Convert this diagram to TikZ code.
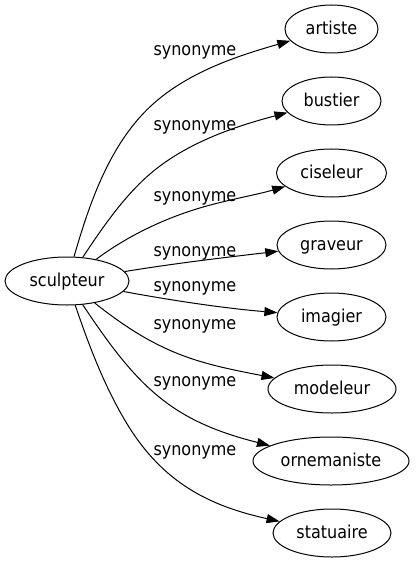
\documentclass[tikz,border=0pt]{standalone}
\usepackage{fontspec}
\setmainfont{DejaVu Sans Condensed}
\usetikzlibrary{shapes.geometric,arrows.meta}
\begin{document}
\begin{tikzpicture}[x=1bp,y=-1bp,
  word/.style={draw, ellipse, inner sep=0pt, line width=1bp,
    minimum height=48bp, font=\fontsize{17.8bp}{20bp}\selectfont,
    text height=14bp, text depth=3bp},
  rel/.style={font=\fontsize{17.8bp}{20bp}\selectfont, anchor=base west, inner sep=0pt},
  link/.style={line width=1bp, -{Triangle[length=13bp,width=9bp]}}]
\useasboundingbox (0,0) rectangle (415,563);

\node[word, minimum width=124bp] (s) at (67,281) {sculpteur};
\node[word, minimum width=93bp]  (n1) at (331.5,29) {artiste};
\node[word, minimum width=99bp]  (n2) at (331.5,101) {bustier};
\node[word, minimum width=110bp] (n3) at (331.5,173) {ciseleur};
\node[word, minimum width=109bp] (n4) at (331.5,245) {graveur};
\node[word, minimum width=109bp] (n5) at (331.5,317) {imagier};
\node[word, minimum width=128bp] (n6) at (332,389) {modeleur};
\node[word, minimum width=156bp] (n7) at (331,461) {ornemaniste};
\node[word, minimum width=118bp] (n8) at (332,533) {statuaire};

\draw[link] (s) .. controls (88.8,205.5) and (107.8,148.9) .. (146.7,110)
  .. controls (184.2,72.5) and (239.3,55.4) .. (n1);
\draw[link] (s) .. controls (100.2,231) and (119.4,202.7) .. (143.3,180)
  .. controls (181.7,143.5) and (236.2,126.1) .. (n2);
\draw[link] (s) .. controls (126.3,236.9) and (160,220.7) .. (193.3,210)
  .. controls (222.8,200.5) and (254.2,195.5) .. (n3);
\draw[link] (s) .. controls (177,263) and (229,257) .. (n4);
\draw[link] (s) .. controls (172,300.5) and (226,308.5) .. (n5);
\draw[link] (s) .. controls (159.4,354.3) and (197.2,363.1) .. (n6);
\draw[link] (s) .. controls (137.9,387.8) and (171.7,420.8) .. (n7);
\draw[link] (s) .. controls (88.8,345.1) and (104.4,386.5) .. (126.7,423.3)
  .. controls (163,483.2) and (209.8,506) .. (n8);

\node[rel] (l1) at (153.3,56) {synonyme};
\node[rel] (l2) at (153.3,130.7) {synonyme};
\node[rel] (l3) at (153.3,201.7) {synonyme};
\node[rel] (l4) at (153.3,256) {synonyme};
\node[rel] (l5) at (153.3,291.7) {synonyme};
\node[rel] (l6) at (153.3,329) {synonyme};
\node[rel] (l7) at (153.3,386) {synonyme};
\node[rel] (l8) at (153.3,455) {synonyme};
\end{tikzpicture}
\end{document}
